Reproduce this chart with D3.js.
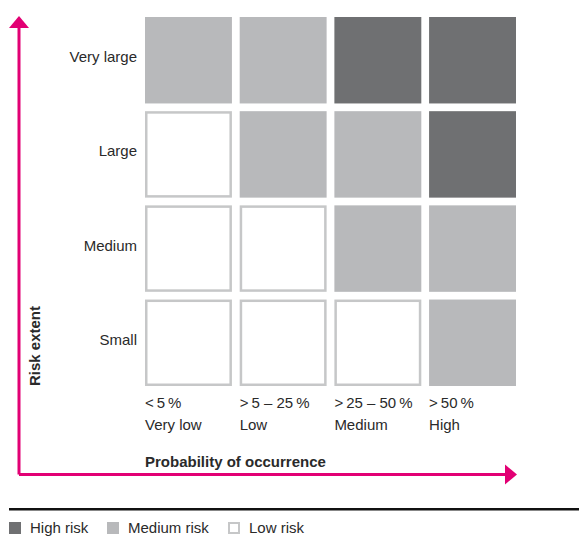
<!DOCTYPE html>
<html><head><meta charset="utf-8">
<script src="https://cdn.jsdelivr.net/npm/d3@7"></script>
<style>body{margin:0;background:#fff}svg{display:block}text{font-family:"Liberation Sans",Arial,sans-serif;fill:#2a2a2a}</style>
</head><body><svg id="c" width="579" height="537"></svg>
<script>
const probLabels = ["<\u20095\u2009%", ">\u20095 \u2013 25\u2009%", ">\u200925 \u2013 50\u2009%", ">\u200950\u2009%"];
const probNames = ["Very low", "Low", "Medium", "High"];
const extentLabels = ["Very large", "Large", "Medium", "Small"];
// risk level per row (top to bottom) per column: 2=high,1=medium,0=low
const riskMatrix = [
  [1, 1, 2, 2],
  [0, 1, 1, 2],
  [0, 0, 1, 1],
  [0, 0, 0, 1]
];
const legendNames = ["High risk", "Medium risk", "Low risk"];
const legendLevels = [2, 1, 0];

const svg = d3.select("#c");
const colors = {2: "#6f7072", 1: "#b8b9bb", 0: "#ffffff"};
const magenta = "#e20074";
const FS = 15;

const x = d3.scaleBand().domain(d3.range(4)).range([145, 516]).paddingInner(0.082).paddingOuter(0);
const y = d3.scaleBand().domain(d3.range(4)).range([17, 386]).paddingInner(0.082).paddingOuter(0);

const cells = [];
riskMatrix.forEach((row, r) => row.forEach((v, c) => cells.push({r, c, v})));

function drawCell(sel) {
  sel.each(function(d) {
    const g = d3.select(this);
    if (d.v === 0) {
      g.append("rect").attr("x", x(d.c) + 1.25).attr("y", y(d.r) + 1.25)
        .attr("width", x.bandwidth() - 2.5).attr("height", y.bandwidth() - 2.5)
        .attr("fill", "#fff").attr("stroke", "#c6c7c8").attr("stroke-width", 2.5);
    } else {
      g.append("rect").attr("x", x(d.c)).attr("y", y(d.r))
        .attr("width", x.bandwidth()).attr("height", y.bandwidth())
        .attr("fill", colors[d.v]);
    }
  });
}
svg.append("g").selectAll("g").data(cells).join("g").call(drawCell);

// row labels
svg.append("g").selectAll("text").data(extentLabels).join("text")
  .attr("x", 137).attr("y", (d, i) => y(i) + y.bandwidth() / 2 + 2)
  .attr("text-anchor", "end").attr("font-size", FS).text(d => d);

// column labels
const cl = svg.append("g").selectAll("g").data(probLabels).join("g");
cl.append("text").attr("x", (d, i) => x(i)).attr("y", 408).attr("font-size", FS).text(d => d);
cl.append("text").attr("x", (d, i) => x(i)).attr("y", 430).attr("font-size", FS).text((d, i) => probNames[i]);

// axis titles
svg.append("text").attr("x", 145).attr("y", 467).attr("font-size", FS).attr("font-weight", "bold").text("Probability of occurrence");
svg.append("text").attr("transform", "translate(40,346) rotate(-90)").attr("text-anchor", "middle")
  .attr("font-size", FS).attr("font-weight", "bold").text("Risk extent");

// arrows
svg.append("path").attr("d", "M19,474.5 L19,27 M19,474.5 L506,474.5").attr("stroke", magenta).attr("stroke-width", 3).attr("fill", "none");
svg.append("path").attr("d", "M9,28 L19,16 L29,28 Z").attr("fill", magenta);
svg.append("path").attr("d", "M505,464.5 L517,474.5 L505,484.5 Z").attr("fill", magenta);

// separator
svg.append("rect").attr("x", 9).attr("y", 508).attr("width", 570).attr("height", 2.5).attr("fill", "#111");

// legend
const lx = [9, 107, 228];
const lg = svg.append("g").selectAll("g").data(legendNames).join("g")
  .attr("transform", (d, i) => `translate(${lx[i]},522)`);
lg.each(function(d, i) {
  const g = d3.select(this);
  const lv = legendLevels[i];
  if (lv === 0) {
    g.append("rect").attr("x", 1).attr("y", 1).attr("width", 10).attr("height", 10)
      .attr("fill", "#fff").attr("stroke", "#c6c7c8").attr("stroke-width", 2);
  } else {
    g.append("rect").attr("width", 12).attr("height", 12).attr("fill", colors[lv]);
  }
  g.append("text").attr("x", 21).attr("y", 11).attr("font-size", FS).text(d);
});
</script></body></html>
